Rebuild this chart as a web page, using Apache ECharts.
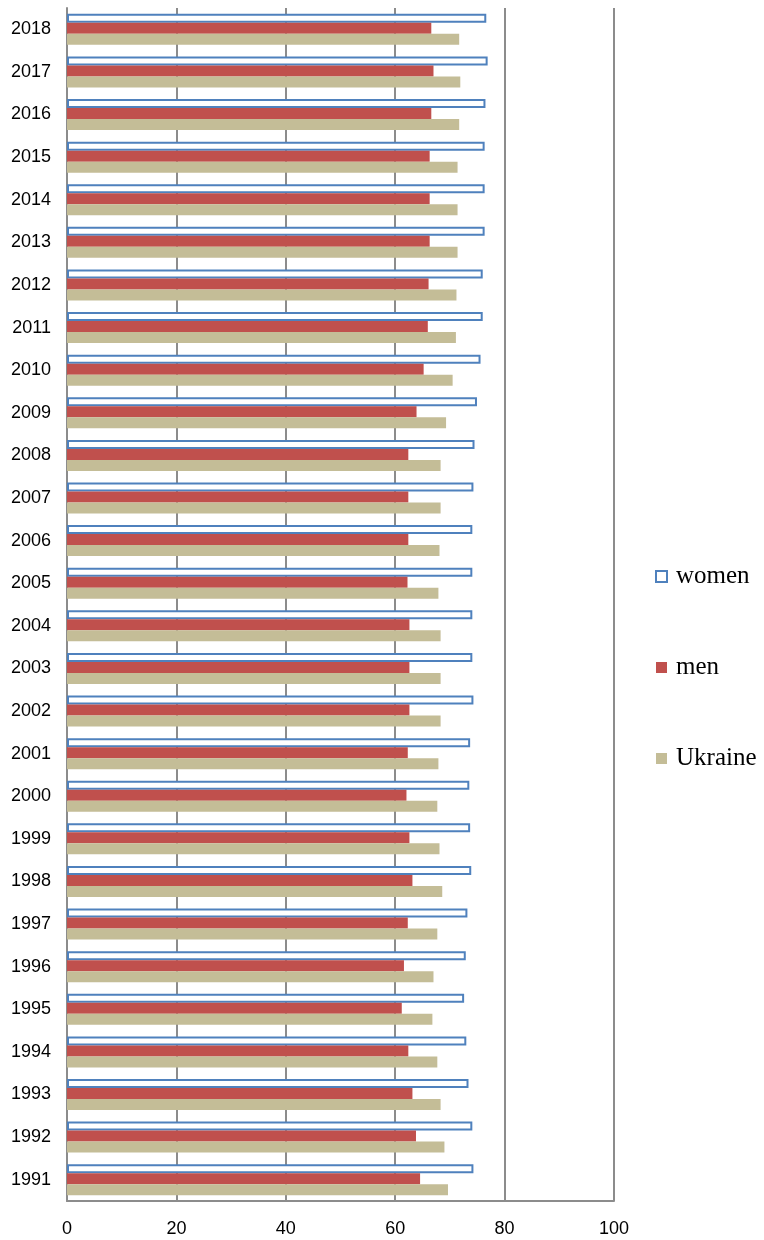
<!DOCTYPE html>
<html>
<head>
<meta charset="utf-8">
<script src="https://cdn.jsdelivr.net/npm/echarts@6/dist/echarts.min.js"></script>
<style>
  html, body { margin: 0; padding: 0; background: #fff; }
  #main { width: 764px; height: 1240px; }
</style>
</head>
<body>
<div id="main"></div>
<script>
const years = ["1991","1992","1993","1994","1995","1996","1997","1998","1999","2000",
  "2001","2002","2003","2004","2005","2006","2007","2008","2009","2010",
  "2011","2012","2013","2014","2015","2016","2017","2018"];
const women = [74.3, 74.1, 73.4, 73.0, 72.6, 72.9, 73.2, 73.9, 73.7, 73.55,
  73.7, 74.3, 74.1, 74.1, 74.1, 74.1, 74.3, 74.5, 74.95, 75.6,
  76.0, 76.0, 76.35, 76.35, 76.35, 76.5, 76.9, 76.65];
const men = [64.55, 63.8, 63.15, 62.4, 61.2, 61.6, 62.3, 63.15, 62.6, 62.06,
  62.3, 62.6, 62.6, 62.6, 62.25, 62.4, 62.4, 62.4, 63.9, 65.2,
  65.96, 66.1, 66.3, 66.3, 66.3, 66.6, 67.0, 66.6];
const ukraine = [69.65, 69.0, 68.3, 67.7, 66.8, 67.0, 67.7, 68.6, 68.1, 67.7,
  67.9, 68.3, 68.3, 68.3, 67.9, 68.1, 68.3, 68.3, 69.3, 70.5,
  71.1, 71.2, 71.4, 71.4, 71.4, 71.7, 71.9, 71.7];

const chart = echarts.init(document.getElementById("main"));
chart.setOption({
  animation: false,
  grid: { left: 67, right: 150, top: 8, bottom: 39 },
  legend: {
    orient: "vertical",
    left: 650,
    top: 559,
    icon: "rect",
    itemWidth: 11,
    itemHeight: 11,
    itemGap: 66,
    data: ["women", "men", "Ukraine"],
    textStyle: { fontFamily: "Liberation Serif", fontSize: 25, color: "#000", padding: [0, 0, 0, 4] }
  },
  xAxis: {
    type: "value",
    min: 0,
    max: 100,
    interval: 20,
    axisLine: { show: true, lineStyle: { color: "#8c8c8c", width: 2 } },
    axisTick: { show: false },
    axisLabel: { fontFamily: "Liberation Sans", fontSize: 18, color: "#000", margin: 19 },
    splitLine: { show: true, lineStyle: { color: "#8c8c8c", width: 2 } }
  },
  yAxis: {
    type: "category",
    data: years,
    axisLine: { show: true, lineStyle: { color: "#8c8c8c", width: 2 } },
    axisTick: { show: false },
    axisLabel: { fontFamily: "Liberation Sans", fontSize: 18, color: "#000", margin: 16 }
  },
  series: [
    {
      name: "women", type: "bar", data: women, barWidth: 9, barGap: "22%", barCategoryGap: "20%",
      itemStyle: { color: "#fff", borderColor: "#4F81BD", borderWidth: 2 }
    },
    {
      name: "men", type: "bar", data: men, barWidth: 11, barGap: "0%",
      itemStyle: { color: "#C0504D" }
    },
    {
      name: "Ukraine", type: "bar", data: ukraine, barWidth: 11, barGap: "0%",
      itemStyle: { color: "#C4BD97" }
    }
  ]
});
</script>
</body>
</html>
